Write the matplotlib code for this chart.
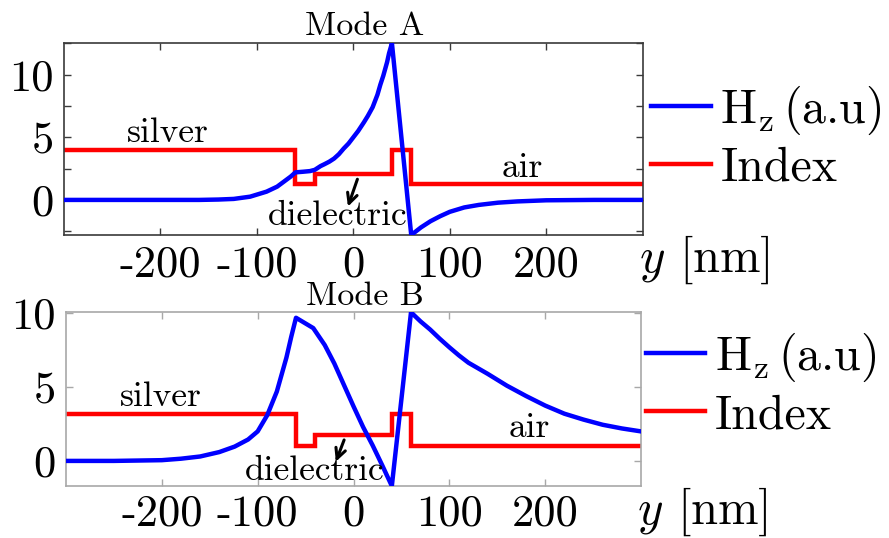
import matplotlib
matplotlib.use('Agg')
import matplotlib.pyplot as plt
import matplotlib.transforms as mtransforms

plt.rcParams['font.family'] = ['cmr10', 'DejaVu Serif']
plt.rcParams['mathtext.fontset'] = 'cm'
plt.rcParams['axes.unicode_minus'] = False
plt.rcParams['axes.formatter.use_mathtext'] = True

# ---------------- data ----------------
# Mode A: Hz field profile
y_a = [-300, -250, -200, -160, -140, -124, -107, -90, -79, -72, -65, -60, -52, -45,
       -40, -34, -30, -25, -20, -15, -10, -5, 0, 5, 11, 15, 20, 25, 28, 31, 35, 37, 40,
       60, 70, 80, 90, 100, 115, 130, 150, 170, 200, 250, 300]
hz_a = [0.0, 0.0, 0.0, 0.0, 0.03, 0.08, 0.26, 0.66, 1.06, 1.46, 1.86, 2.2, 2.25, 2.3,
        2.4, 2.7, 2.85, 3.05, 3.3, 3.65, 4.1, 4.5, 5.0, 5.5, 6.2, 6.7, 7.4, 8.4, 9.2,
        9.9, 11.0, 11.7, 12.5,
        -2.8, -2.2, -1.7, -1.3, -0.95, -0.6, -0.4, -0.22, -0.12, -0.03, 0.0, 0.0]

# Mode B: Hz field profile
y_b = [-300, -250, -200, -180, -160, -140, -124, -110, -100, -90, -80, -70, -65, -60,
       -42, -30, -20, -10, 0, 10, 20, 30, 40,
       60, 70, 80, 90, 100, 110, 120, 140, 160, 180, 200, 220, 240, 260, 280, 300]
hz_b = [0.0, 0.0, 0.05, 0.15, 0.3, 0.6, 0.97, 1.45, 2.0, 3.1, 4.7, 7.0, 8.4, 9.7,
        9.0, 7.85, 6.6, 5.15, 3.7, 2.3, 1.05, -0.3, -1.7,
        10.07, 9.45, 8.9, 8.28, 7.7, 7.15, 6.65, 5.9, 5.1, 4.4, 3.75, 3.2, 2.8, 2.45,
        2.2, 2.0]

# refractive index (step profile)
layer_edges = [-300, -60, -40, 40, 60, 300]
index_a = [4.0, 1.25, 2.1, 4.0, 1.25, 1.25]
index_b = [3.2, 1.04, 1.75, 3.2, 1.04, 1.04]

xticks = [-200, -100, 0, 100, 200]
xtick_labels = ['-200', '-100', '0', '100', '200']
yticks_a = [-2.5, 0, 2.5, 5, 7.5, 10, 12.5]
ytick_labels_a = ['', '0', '', '5', '', '10', '']
yticks_b = [0, 5, 10]
ytick_labels_b = ['0', '5', '10']

titles = ['Mode A', 'Mode B']
legend_labels = [r'H$_{\mathrm{z}}\,$(a.u)', 'Index']
xlabel = r'$y$ [nm]'

# ---------------- figure ----------------
W, H = 889, 538
fig = plt.figure(figsize=(W / 100, H / 100), dpi=100)
ax1 = fig.add_axes([64 / W, 1 - 235 / H, 578.7 / W, 191.7 / H])
ax2 = fig.add_axes([66 / W, 1 - 486 / H, 575 / W, 173.7 / H])

BLUE = '#0000ff'
RED = '#ff0000'
LW = 3.2


def setup(ax, ys, hz, idx, ylim, yt, ytl, spine_col, title, title_y,
          xpad, leg_anchor, xlabel_y):
    ax.plot(layer_edges, idx, drawstyle='steps-post', color=RED, lw=LW,
            label=legend_labels[1], zorder=2, solid_joinstyle='miter')
    ax.plot(ys, hz, color=BLUE, lw=LW, label=legend_labels[0], zorder=3)
    ax.set_xlim(-300, 300)
    ax.set_ylim(*ylim)
    ax.set_xticks(xticks)
    ax.set_xticklabels(xtick_labels)
    ax.set_yticks(yt)
    ax.set_yticklabels(ytl)
    ax.tick_params(direction='in', top=True, right=True, length=5, width=1.0,
                   labelsize=32, color=spine_col)
    ax.tick_params(axis='x', pad=xpad)
    ax.tick_params(axis='y', pad=7.5)
    for s in ax.spines.values():
        s.set_color(spine_col)
        s.set_linewidth(1.2)
    trans = mtransforms.blended_transform_factory(ax.transData, ax.transAxes)
    ax.text(11.8, title_y, title, transform=trans, ha='center', va='baseline',
            fontsize=24.5)
    ax.text(296, xlabel_y, xlabel, transform=trans, ha='left', va='baseline',
            fontsize=35)
    h, l = ax.get_legend_handles_labels()
    order = [1, 0]
    ax.legend([h[i] for i in order], [l[i] for i in order], loc='center left',
              bbox_to_anchor=leg_anchor, frameon=False, fontsize=34.5,
              handlelength=1.25, handletextpad=0.2, labelspacing=0.2,
              borderpad=0, borderaxespad=0)


setup(ax1, y_a, hz_a, index_a, (-2.8, 12.5), yticks_a, ytick_labels_a, '#3a3a3a',
      titles[0], 1.043, 7.5, (1.014, 0.511), -0.193)
setup(ax2, y_b, hz_b, index_b, (-1.7, 10.07), yticks_b, ytick_labels_b, '#a8a8a8',
      titles[1], 1.042, 6.0, (1.008, 0.584), -0.219)

# annotations
ax1.text(-192, 4.65, 'silver', ha='center', va='baseline', fontsize=25.5)
ax1.text(175, 1.8, 'air', ha='center', va='baseline', fontsize=25.5)
ax1.text(-16.4, -2.0, 'dielectric', ha='center', va='baseline', fontsize=25.5)
ax1.annotate('', xy=(-5.6, -0.53), xytext=(4.2, 1.65),
             arrowprops=dict(arrowstyle='->', color='black', lw=2.2,
                             mutation_scale=18, shrinkA=0, shrinkB=0))

ax2.text(-200.7, 3.72, 'silver', ha='center', va='baseline', fontsize=25.5)
ax2.text(183, 1.6, 'air', ha='center', va='baseline', fontsize=25.5)
ax2.text(-41, -1.29, 'dielectric', ha='center', va='baseline', fontsize=25.5)
ax2.annotate('', xy=(-18.4, -0.05), xytext=(-9.8, 1.42),
             arrowprops=dict(arrowstyle='->', color='black', lw=2.2,
                             mutation_scale=18, shrinkA=0, shrinkB=0))

fig.savefig('out.png', dpi=100)
